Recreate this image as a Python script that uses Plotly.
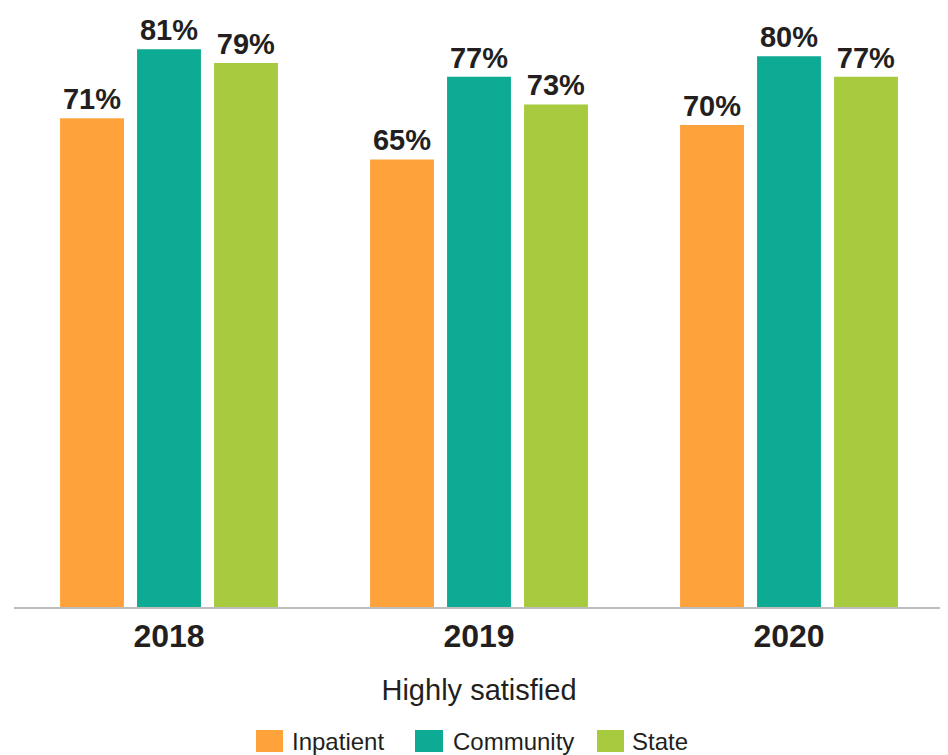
import plotly.graph_objects as go

years = ["2018", "2019", "2020"]
series_names = ["Inpatient", "Community", "State"]
inpatient = [71, 65, 70]
community = [81, 77, 80]
state = [79, 73, 77]
colors = ["#FEA33C", "#0DAB93", "#A8CA3E"]
axis_title = "Highly satisfied"

values = [inpatient, community, state]

FONT = "Liberation Sans, Arial"
fig = go.Figure()
for name, vals, col in zip(series_names, values, colors):
    fig.add_trace(go.Bar(
        x=years, y=vals, name=name, marker=dict(color=col, line=dict(width=0)),
        text=[f"{v}%" for v in vals], textposition="outside", cliponaxis=False,
        textfont=dict(family=FONT, size=29, color="#231F20", weight="bold"),
        showlegend=False,
    ))

# page has an 8px body margin, so the figure is drawn from (8, 8)
OFF = 8
W, H = 948 - OFF, 755 - OFF
ml, mr, mt, mb = 6, 4, 0, 148
pw, ph = W - ml - mr, H - mt - mb

def px_x(x):
    return (x - OFF - ml) / pw

def px_y(y):
    return (H - mb - (y - OFF)) / ph

# custom legend (large swatches), positions in page pixels
legend_pos = [(256, 283, 290), (415, 443, 451), (597, 624, 630)]
shapes = []
annotations = []
for (x0, x1, tx), name, col in zip(legend_pos, series_names, colors):
    shapes.append(dict(type="rect", xref="paper", yref="paper",
                       x0=px_x(x0), x1=px_x(x1), y0=px_y(752), y1=px_y(730),
                       fillcolor=col, line=dict(width=0)))
    annotations.append(dict(xref="paper", yref="paper", x=px_x(tx), y=px_y(741),
                            xanchor="left", yanchor="middle", showarrow=False,
                            text=name, font=dict(family=FONT, size=24, color="#231F20")))

fig.update_layout(
    width=W, height=H,
    margin=dict(l=ml, r=mr, t=mt, b=mb),
    barmode="group", bargap=0.255, bargroupgap=0.17,
    plot_bgcolor="white", paper_bgcolor="white",
    shapes=shapes, annotations=annotations,
    xaxis=dict(
        showline=True, linecolor="#BDBDBD", linewidth=2, showgrid=False, ticks="",
        tickfont=dict(family=FONT, size=32, color="#231F20", weight="bold"),
        title=dict(text=axis_title, standoff=26,
                   font=dict(family=FONT, size=29, color="#231F20")),
    ),
    yaxis=dict(range=[0, 87], visible=False, showgrid=False),
)

fig.write_html("out.html")
